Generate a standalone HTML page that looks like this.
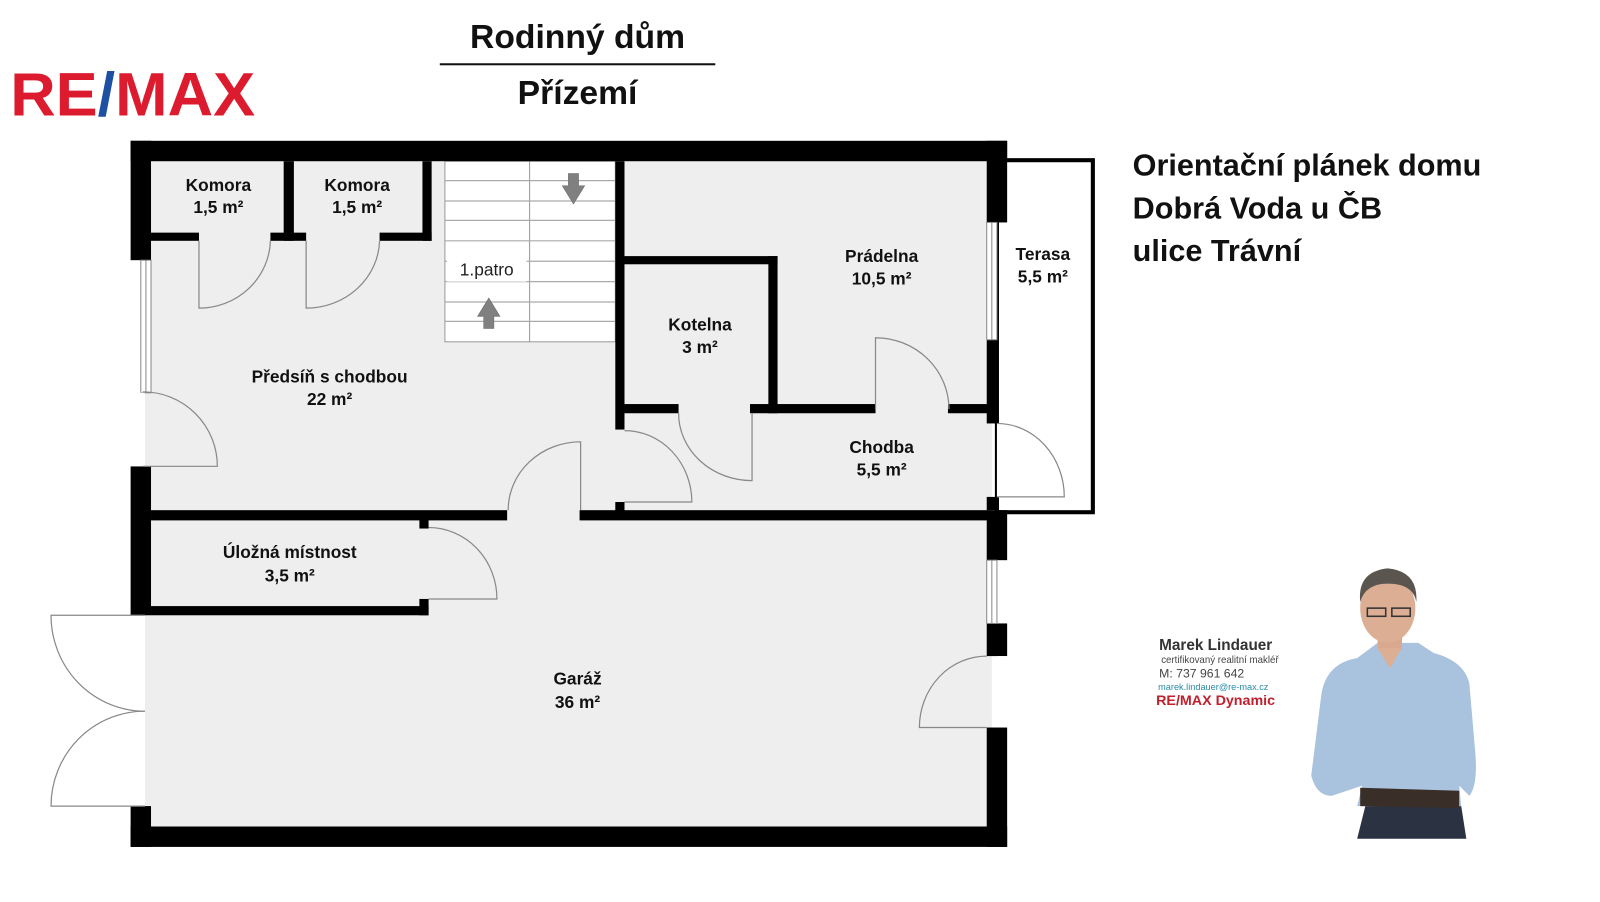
<!DOCTYPE html>
<html><head><meta charset="utf-8"><style>
html,body{margin:0;padding:0;background:#fff;width:1600px;height:902px;overflow:hidden}
svg{display:block}
text{font-family:"Liberation Sans",Arial,sans-serif}
</style></head><body>
<svg width="1600" height="902" viewBox="0 0 1568 884" preserveAspectRatio="none" xmlns="http://www.w3.org/2000/svg">
<text x="10" y="113" font-size="60" font-weight="bold" fill="#dc1c2e" textLength="240" lengthAdjust="spacingAndGlyphs">RE<tspan fill="#1d4fa3">/</tspan>MAX</text>
<text x="566" y="47" font-size="33" font-weight="bold" text-anchor="middle" fill="#111">Rodinný dům</text>
<rect x="431" y="62" width="270" height="2" fill="#111"/>
<text x="566" y="102" font-size="33" font-weight="bold" text-anchor="middle" fill="#111">Přízemí</text>
<g font-size="30" font-weight="bold" fill="#111">
<text x="1110" y="172">Orientační plánek domu</text>
<text x="1110" y="214">Dobrá Voda u ČB</text>
<text x="1110" y="256">ulice Trávní</text>
</g>
<rect x="142" y="152" width="830" height="665" fill="#eeeeee"/>
<rect x="436" y="158" width="167" height="177" fill="#fff" stroke="#999" stroke-width="1"/>
<line x1="519" y1="158" x2="519" y2="335" stroke="#999"/>
<g stroke="#aaa" stroke-width="1.2">
<line x1="436" y1="177" x2="603" y2="177"/><line x1="436" y1="197" x2="603" y2="197"/>
<line x1="436" y1="216" x2="603" y2="216"/><line x1="436" y1="236" x2="603" y2="236"/>
<line x1="436" y1="256" x2="603" y2="256"/><line x1="436" y1="276" x2="603" y2="276"/>
<line x1="436" y1="296" x2="603" y2="296"/><line x1="436" y1="315" x2="603" y2="315"/>
</g>
<rect x="438" y="252" width="78" height="24" fill="#fff"/>
<text x="477" y="270" font-size="17" text-anchor="middle" fill="#222">1.patro</text>
<polygon points="557,170 567,170 567,182 573,182 562,200 551,182 557,182" fill="#808080" stroke="#666" stroke-width="0.5"/>
<polygon points="474,322 484,322 484,310 490,310 479,292 468,310 474,310" fill="#808080" stroke="#666" stroke-width="0.5"/>
<rect x="977" y="157" width="94" height="345" fill="none" stroke="#000" stroke-width="4"/>
<g fill="#000">
<rect x="128" y="138" width="859" height="20"/>
<rect x="128" y="810" width="859" height="20"/>
<rect x="128" y="138" width="20" height="117"/>
<rect x="128" y="457" width="20" height="146"/>
<rect x="128" y="790" width="20" height="40"/>
<rect x="967" y="138" width="20" height="80"/>
<rect x="967" y="333" width="10" height="82"/>
<rect x="967" y="487" width="10" height="13"/>
<rect x="967" y="500" width="20" height="49"/>
<rect x="967" y="611" width="20" height="32"/>
<rect x="967" y="713" width="20" height="117"/>
<rect x="148" y="228" width="47" height="8"/>
<rect x="265" y="228" width="35" height="8"/>
<rect x="372" y="228" width="51" height="8"/>
<rect x="278" y="158" width="10" height="78"/>
<rect x="414" y="158" width="9" height="78"/>
<rect x="603" y="158" width="9" height="263"/>
<rect x="603" y="492" width="9" height="10"/>
<rect x="612" y="251" width="150" height="8"/>
<rect x="753" y="251" width="9" height="154"/>
<rect x="612" y="396" width="53" height="9"/>
<rect x="735" y="396" width="123" height="9"/>
<rect x="929" y="396" width="40" height="9"/>
<rect x="148" y="500" width="349" height="10"/>
<rect x="568" y="500" width="400" height="10"/>
<rect x="148" y="594" width="272" height="9"/>
<rect x="411" y="509" width="9" height="9"/>
<rect x="411" y="587" width="9" height="16"/>
</g>
<g fill="#fff" stroke="#888" stroke-width="1">
<rect x="138" y="255" width="10" height="130"/>
<rect x="967" y="218" width="10" height="115"/>
<rect x="967" y="549" width="10" height="62"/>
</g>
<g stroke="#888" stroke-width="1"><line x1="143" y1="255" x2="143" y2="385"/><line x1="972" y1="218" x2="972" y2="333"/><line x1="972" y1="549" x2="972" y2="611"/></g>
<rect x="128" y="385" width="14" height="72" fill="#fff"/>
<rect x="128" y="603" width="14" height="187" fill="#fff"/>
<rect x="977" y="415" width="10" height="72" fill="#fff"/>
<rect x="977" y="643" width="10" height="70" fill="#fff"/>
<g fill="none" stroke="#888" stroke-width="1.2">
<path d="M140,384 A73,73 0 0 1 213,457 L140,457"/>
<path d="M265,236 A70,68 0 0 1 195,302 L195,236"/>
<path d="M372,236 A72,68 0 0 1 300,302 L300,236"/>
<path d="M498,500 A71,67 0 0 1 569,433 L569,500"/>
<path d="M612,422 A66,70 0 0 1 678,492 L612,492"/>
<path d="M665,405 A72,66 0 0 0 737,471 L737,405"/>
<path d="M858,401 L858,331 A72,70 0 0 1 930,401"/>
<path d="M977,415 A66,72 0 0 1 1043,487 L977,487"/>
<path d="M420,517 A67,70 0 0 1 487,587 L420,587"/>
<path d="M967,643 A66,70 0 0 0 901,713 L967,713"/>
<path d="M142,697 A92,94 0 0 1 50,603 L142,603"/>
<path d="M142,697 A92,93 0 0 0 50,790 L142,790"/>
</g>
<g font-size="17" font-weight="bold" text-anchor="middle" fill="#111">
<text x="214" y="187">Komora</text><text x="214" y="209">1,5 m²</text>
<text x="350" y="187">Komora</text><text x="350" y="209">1,5 m²</text>
<text x="323" y="375">Předsíň s chodbou</text><text x="323" y="397">22 m²</text>
<text x="686" y="324">Kotelna</text><text x="686" y="346">3 m²</text>
<text x="864" y="257">Prádelna</text><text x="864" y="279">10,5 m²</text>
<text x="1022" y="255">Terasa</text><text x="1022" y="277">5,5 m²</text>
<text x="864" y="444">Chodba</text><text x="864" y="466">5,5 m²</text>
<text x="284" y="547">Úložná místnost</text><text x="284" y="570">3,5 m²</text>
<text x="566" y="671">Garáž</text><text x="566" y="694">36 m²</text>
</g>
<text x="1136" y="637" font-size="15" font-weight="bold" fill="#333">Marek Lindauer</text>
<text x="1138" y="650" font-size="9.5" fill="#444">certifikovaný realitní makléř</text>
<text x="1136" y="664" font-size="12" fill="#444">M: 737 961 642</text>
<text x="1135" y="676" font-size="9" fill="#2a8aa8">marek.lindauer@re-max.cz</text>
<text x="1133" y="691" font-size="14" font-weight="bold" fill="#c0202e">RE/MAX Dynamic</text>
<g>
<path d="M1338,790 L1330,822 L1437,822 L1432,790 Z" fill="#2b3342"/>
<path d="M1330,645 Q1300,650 1295,680 L1285,760 Q1290,780 1305,780 L1335,770 L1330,790 L1432,790 L1430,770 L1440,780 Q1448,770 1446,740 L1440,670 Q1435,648 1405,640 L1390,630 L1350,630 Z" fill="#a9c3de"/>
<path d="M1333,772 L1430,775 L1430,792 L1333,790 Z" fill="#3a2e28"/>
<rect x="1350" y="615" width="24" height="22" fill="#d9a88e"/>
<ellipse cx="1360" cy="596" rx="27" ry="34" fill="#dcae94"/>
<path d="M1333,590 Q1330,560 1360,557 Q1390,560 1388,590 Q1385,572 1360,572 Q1338,572 1333,590 Z" fill="#5a554f"/>
<rect x="1340" y="596" width="18" height="8" fill="none" stroke="#333" stroke-width="1.5"/>
<rect x="1364" y="596" width="18" height="8" fill="none" stroke="#333" stroke-width="1.5"/>
<path d="M1350,635 L1362,655 L1374,635 Z" fill="#dcae94"/>
</g>
</svg>
</body></html>
